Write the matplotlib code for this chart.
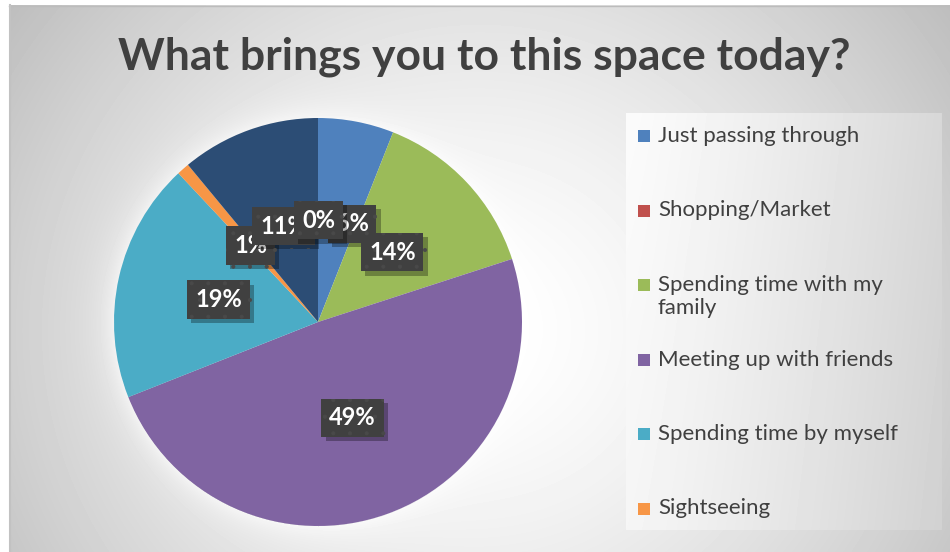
import numpy as np
import matplotlib.pyplot as plt
import matplotlib.patheffects as pe
from matplotlib.patches import Rectangle
from matplotlib.transforms import offset_copy

plt.rcParams['font.family'] = ['Lato', 'DejaVu Sans']
plt.rcParams['hatch.linewidth'] = 0.5

title = "What brings you to this space today?"
categories = ["Just passing through", "Shopping/Market",
              "Spending time with my\nfamily", "Meeting up with friends",
              "Spending time by myself", "Sightseeing", "Other"]
shares = [6, 0, 14, 49, 19, 1, 11]
colors = ["#4F81BD", "#C0504D", "#9BBB59", "#8064A2", "#4BACC6", "#F79646", "#2C4D75"]
n_legend = 6  # the last slice has no legend entry

W, H = 950, 552
fig = plt.figure(figsize=(W / 100, H / 100), dpi=100)
fig.patch.set_facecolor('white')

# pie geometry in pixels
cx, cy, R = 318, 322, 204

# chart area background: soft radial gradient with a light halo round the pie
bg = fig.add_axes([0, 0, 1, 1], zorder=0)
yy, xx = np.mgrid[0:H, 0:W]
d = np.hypot(xx - 480, (yy - 330) * 1.05) / 560
val = 255 - 62 * np.clip(d, 0, 1.3) ** 1.5
r = np.hypot(xx - cx, yy - cy)
glow = np.where(r > R, np.exp(-(r - R) / 14), 0)
val = val + (255 - val) * 0.6 * glow
val[:, :9] = 255
val[:5, :] = 255
bg.imshow(val / 255, cmap='gray', vmin=0, vmax=1, extent=(0, W, H, 0),
          aspect='auto', interpolation='bilinear')
bg.plot([9, W], [5.5, 5.5], color='#bcbcbc', lw=1)
bg.plot([9.5, 9.5], [5, H], color='#c2c2c2', lw=1.5)

# legend panel with its own gradient
lx0, ly0, lw_, lh_ = 626, 113, 316, 417
gy, gx = np.mgrid[0:lh_, 0:lw_]
lval = 251 - 36 * (gx / lw_) ** 1.2 - 6 * (gy / lh_)
bg.imshow(lval / 255, cmap='gray', vmin=0, vmax=1,
          extent=(lx0, lx0 + lw_, ly0 + lh_, ly0), aspect='auto')
bg.set_xlim(0, W)
bg.set_ylim(H, 0)
bg.axis('off')

row0, row_step = 136, 74.5
for i in range(n_legend):
    y = row0 + i * row_step
    bg.add_patch(Rectangle((638, y - 6), 12, 12, color=colors[i], lw=0))
    bg.text(658, y - 10, categories[i], ha='left', va='top', fontsize=16,
            color='#404040', linespacing=1.2)

fig.text(484 / W, 1 - 57 / H, title, ha='center', va='center', fontsize=32,
         weight='bold', color='#404040')

# the pie itself
ax = fig.add_axes([(cx - R) / W, (H - cy - R) / H, 2 * R / W, 2 * R / H], zorder=1)
wedges, _ = ax.pie(shares, colors=colors, startangle=90, counterclock=False,
                   radius=1, wedgeprops=dict(linewidth=0))
ax.set_xlim(-1, 1)
ax.set_ylim(-1, 1)

# value labels, a couple nudged apart (pixels: right, up)
nudge = {0: (15, -2), 1: (-37, 7)}
draw_order = [0, 2, 3, 4, 5, 6, 1]
for z, i in enumerate(draw_order):
    w = wedges[i]
    mid = np.deg2rad((w.theta1 + w.theta2) / 2)
    x, y = 0.5 * np.cos(mid), 0.5 * np.sin(mid)
    dx, dy = nudge.get(i, (0, 0))
    tr = offset_copy(ax.transData, fig=fig, x=dx, y=dy, units='dots')
    t = ax.text(x, y, f"{shares[i]}%", transform=tr, ha='center', va='center',
                fontsize=17, weight='bold', color='white', zorder=6 + z,
                bbox=dict(boxstyle='square,pad=0.33', facecolor='#404040',
                          edgecolor='#494949', lw=0, hatch='.'))
    t.get_bbox_patch().set_path_effects(
        [pe.SimplePatchShadow(offset=(3, -3), shadow_rgbFace='black', alpha=0.3),
         pe.Normal()])

fig.savefig('out.png', dpi=100)
